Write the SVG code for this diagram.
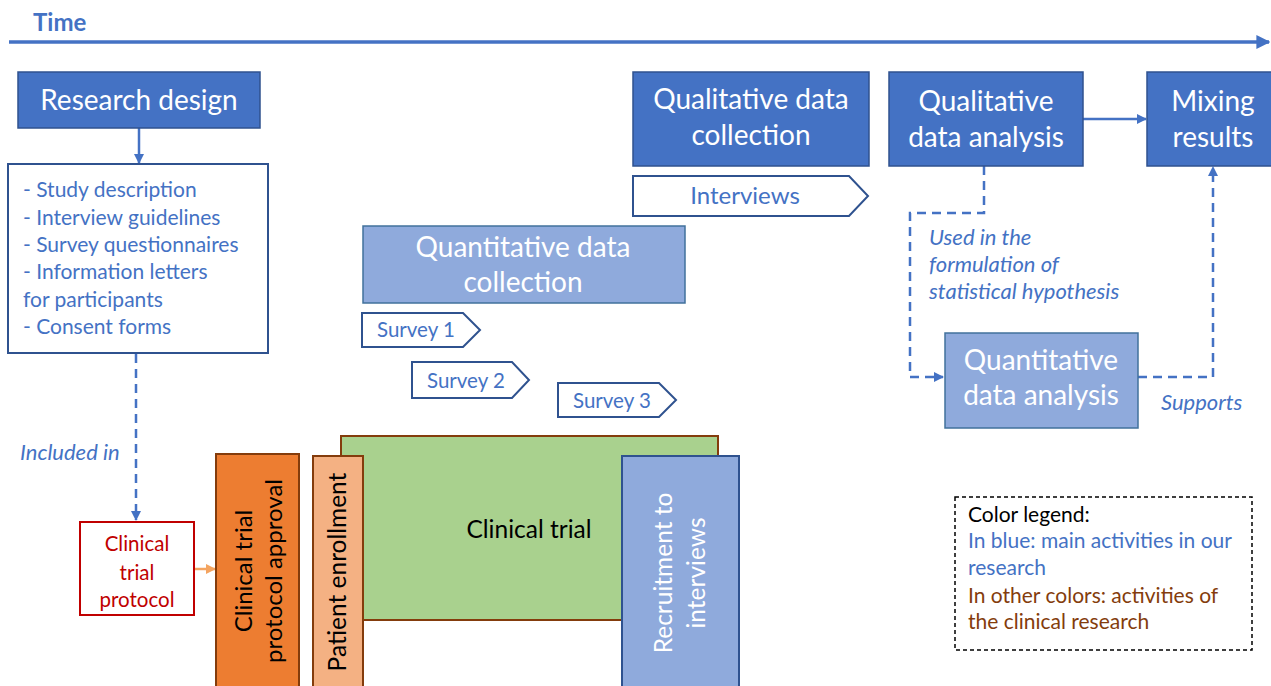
<svg xmlns="http://www.w3.org/2000/svg" width="1271" height="686" viewBox="0 0 1271 686">
<style>
text{font-family:Lato,"Open Sans","Liberation Sans",sans-serif}
.main{fill:#4472c4;stroke:#2f528f;stroke-width:1.5}
.light{fill:#8faadc;stroke:#41719c;stroke-width:1.5}
.wt{fill:#fff;font-size:28px;text-anchor:middle}
.bt{fill:#4472c4;font-size:21px}
.it{fill:#4472c4;font-size:22px;font-style:italic}
.tag{fill:#fff;stroke:#2f528f;stroke-width:2}
.tagt{fill:#4472c4;font-size:20.5px}
.conn{fill:none;stroke:#4472c4;stroke-width:2.5}
.dash{fill:none;stroke:#4472c4;stroke-width:2.5;stroke-dasharray:9 6}
.brown{stroke:#843c0c;stroke-width:2}
.vt{fill:#000;font-size:24px;text-anchor:middle}
.lg{font-size:21px}
</style>
<defs>
<marker id="ab" viewBox="0 0 10 10" refX="9" refY="5" markerWidth="4" markerHeight="4" orient="auto" markerUnits="strokeWidth"><path d="M0,0L10,5L0,10z" fill="#4472c4"/></marker>
<marker id="ao" viewBox="0 0 10 10" refX="9" refY="5" markerWidth="4" markerHeight="4" orient="auto" markerUnits="strokeWidth"><path d="M0,0L10,5L0,10z" fill="#f4a460"/></marker>
</defs>
<rect width="1271" height="686" fill="#fff"/>

<g id="time">
<text x="33" y="31" style="fill:#4472c4;font-size:24px;font-weight:bold">Time</text>
</g>

<g id="connectors">
<line x1="9" y1="42" x2="1269" y2="42" stroke="#4472c4" stroke-width="3.5" marker-end="url(#ab)"/>
<line x1="139" y1="128" x2="139" y2="163" class="conn" marker-end="url(#ab)"/>
<line x1="136" y1="354" x2="136" y2="520" class="dash" marker-end="url(#ab)"/>
<line x1="194" y1="569" x2="215" y2="569" stroke="#f4a460" stroke-width="2.5" marker-end="url(#ao)"/>
<line x1="1083" y1="119" x2="1146" y2="119" class="conn" marker-end="url(#ab)"/>
<path d="M984,166 V213 H910 V377 H943" class="dash" marker-end="url(#ab)"/>
<path d="M1138,377 H1213 V167" class="dash" marker-end="url(#ab)"/>
</g>

<g id="research-design">
<rect x="18" y="72" width="242" height="56" class="main"/>
<text x="139" y="110" class="wt">Research design</text>
</g>

<g id="documents">
<rect x="8" y="164" width="260" height="189" fill="#fff" stroke="#2f528f" stroke-width="2"/>
<text class="bt" x="23" y="197">- Study description</text>
<text class="bt" x="23" y="225">- Interview guidelines</text>
<text class="bt" x="23" y="252">- Survey questionnaires</text>
<text class="bt" x="23" y="279">- Information letters</text>
<text class="bt" x="23" y="307">for participants</text>
<text class="bt" x="23" y="334">- Consent forms</text>
</g>

<g id="included-in">
<text class="it" x="20" y="460">Included in</text>
</g>

<g id="protocol">
<rect x="80" y="522" width="114" height="93" fill="#fff" stroke="#c00000" stroke-width="2"/>
<text x="137" y="551" style="fill:#c00000;font-size:20.5px;text-anchor:middle">Clinical</text>
<text x="137" y="580" style="fill:#c00000;font-size:20.5px;text-anchor:middle">trial</text>
<text x="137" y="607" style="fill:#c00000;font-size:20.5px;text-anchor:middle">protocol</text>
</g>

<g id="clinical-trial">
<rect x="341" y="436" width="377" height="184" fill="#a9d18e" class="brown"/>
<text x="529" y="538" style="fill:#000;font-size:24.5px;text-anchor:middle">Clinical trial</text>
</g>

<g id="protocol-approval">
<rect x="216" y="454" width="83" height="240" fill="#ed7d31" class="brown"/>
<text class="vt" transform="translate(252,571) rotate(-90)">Clinical trial</text>
<text class="vt" transform="translate(282,571) rotate(-90)">protocol approval</text>
</g>

<g id="patient-enrollment">
<rect x="313" y="456" width="50" height="240" fill="#f4b183" class="brown"/>
<text class="vt" transform="translate(346,572) rotate(-90)" style="font-size:24.5px">Patient enrollment</text>
</g>

<g id="recruitment">
<rect x="622" y="456" width="117" height="240" fill="#8faadc" stroke="#2f528f" stroke-width="2"/>
<text class="wt" transform="translate(672,573) rotate(-90)" style="font-size:24.5px">Recruitment to</text>
<text class="wt" transform="translate(705,573) rotate(-90)" style="font-size:24.5px">interviews</text>
</g>

<g id="quant-collection">
<rect x="363" y="226" width="322" height="77" class="light"/>
<text class="wt" x="523" y="257">Quantitative data</text>
<text class="wt" x="523" y="292">collection</text>
</g>

<g id="survey1">
<path d="M362,313 H463 L480,330 L463,347 H362 Z" class="tag"/>
<text class="tagt" x="377" y="337">Survey 1</text>
</g>
<g id="survey2">
<path d="M412,362 H512 L529,380 L512,398 H412 Z" class="tag"/>
<text class="tagt" x="427" y="388">Survey 2</text>
</g>
<g id="survey3">
<path d="M558,383 H659 L676,400 L659,417 H558 Z" class="tag"/>
<text class="tagt" x="573" y="408">Survey 3</text>
</g>

<g id="qual-collection">
<rect x="633" y="72" width="236" height="94" class="main"/>
<text class="wt" x="751" y="109">Qualitative data</text>
<text class="wt" x="751" y="145">collection</text>
</g>

<g id="interviews">
<path d="M633,176 H849 L868,196 L849,216 H633 Z" class="tag"/>
<text x="745" y="204" style="fill:#4472c4;font-size:24px;text-anchor:middle">Interviews</text>
</g>

<g id="qual-analysis">
<rect x="889" y="72" width="194" height="94" class="main"/>
<text class="wt" x="986" y="111">Qualitative</text>
<text class="wt" x="986" y="147">data analysis</text>
</g>

<g id="mixing">
<rect x="1147" y="72" width="130" height="94" class="main"/>
<text class="wt" x="1213" y="111">Mixing</text>
<text class="wt" x="1213" y="147">results</text>
</g>

<g id="used-in">
<text class="it" x="929" y="245">Used in the</text>
<text class="it" x="929" y="272">formulation of</text>
<text class="it" x="929" y="299">statistical hypothesis</text>
</g>

<g id="quant-analysis">
<rect x="945" y="333" width="193" height="95" class="light"/>
<text class="wt" x="1041" y="370">Quantitative</text>
<text class="wt" x="1041" y="405">data analysis</text>
</g>

<g id="supports">
<text class="it" x="1161" y="410">Supports</text>
</g>

<g id="legend">
<rect x="955" y="497" width="297" height="153" fill="#fff" stroke="#000" stroke-width="1.5" stroke-dasharray="4 3"/>
<text class="lg" x="968" y="522" style="fill:#000">Color legend:</text>
<text class="lg" x="968" y="548" style="fill:#4472c4">In blue: main activities in our</text>
<text class="lg" x="968" y="575" style="fill:#4472c4">research</text>
<text class="lg" x="968" y="603" style="fill:#843c0c">In other colors: activities of</text>
<text class="lg" x="968" y="629" style="fill:#843c0c">the clinical research</text>
</g>
</svg>
